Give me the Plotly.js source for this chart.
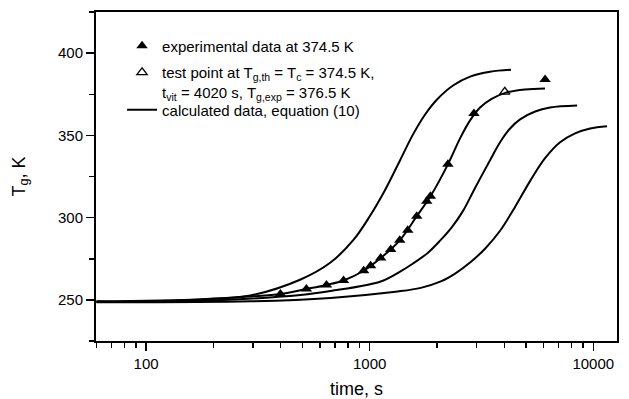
<!DOCTYPE html>
<html>
<head>
<meta charset="utf-8">
<script src="https://cdn.plot.ly/plotly-3.0.1.min.js"></script>
<style>
  html, body { margin: 0; padding: 0; background: #ffffff; }
  #chart { width: 629px; height: 399px; }
</style>
</head>
<body>
<div id="chart"></div>
<script>
// ---- data ----
const curve1Time = [60, 104, 175, 293, 491, 668, 848, 1004, 1172, 1368, 1563, 1770, 2001, 2360, 2812, 3455, 4285];
const curve1Tg   = [248.8, 249.1, 250.3, 252.7, 262.4, 272.7, 286.6, 301.1, 316.8, 334.9, 350.6, 362.7, 371.8, 380.3, 385.7, 388.7, 389.9];

const curve2Time = [60, 175, 293, 399, 521, 641, 764, 940, 1120, 1363, 1624, 1870, 2238, 2537, 2812, 3118, 3527, 4070, 4955, 6087];
const curve2Tg   = [249.1, 250.3, 252.1, 253.6, 256.6, 259.1, 261.8, 267.7, 275.4, 286.2, 300.9, 313.0, 332.4, 348.2, 359.1, 366.9, 372.3, 376.0, 377.9, 378.5];

const curve3Time = [60, 175, 491, 668, 1120, 1368, 1563, 1824, 2065, 2337, 2616, 2960, 3455, 3830, 4246, 4707, 5495, 6411, 8468];
const curve3Tg   = [248.8, 249.4, 253.0, 255.4, 261.2, 267.2, 272.1, 278.7, 286.0, 294.4, 304.1, 318.0, 334.9, 345.8, 354.2, 359.7, 364.5, 366.9, 368.1];

const curve4Time = [60, 293, 668, 1335, 1693, 2081, 2410, 2812, 3281, 3830, 4470, 5215, 6087, 7106, 8293, 9679, 11530];
const curve4Tg   = [248.5, 249.1, 251.2, 255.1, 257.3, 261.2, 266.0, 272.7, 281.1, 292.0, 306.5, 322.2, 336.1, 345.8, 351.2, 354.2, 355.6];

const expTime = [399, 521, 641, 764, 940, 1010, 1120, 1242, 1363, 1480, 1624, 1800, 1870, 2238, 2927, 6090];
const expTg   = [253.6, 256.6, 259.1, 261.8, 267.7, 270.7, 275.4, 280.6, 286.2, 292.4, 300.9, 310.0, 313.0, 332.4, 363.3, 384.0];

const testTime = [4020];
const testTg   = [376.5];

const xTickVals = [100, 1000, 10000];
const xTickText = ['100', '1000', '10000'];
const yTickVals = [250, 300, 350, 400];
const yTickText = ['250', '300', '350', '400'];

const legendExp  = 'experimental data at 374.5 K';
const legendTest = 'test point at T<sub>g,th</sub> = T<sub>c</sub> = 374.5 K,<br>t<sub>vit</sub> = 4020 s, T<sub>g,exp</sub> = 376.5 K';
const legendCalc = 'calculated data, equation (10)';

// ---- chart ----
const FONT = 'Liberation Sans, Arial, Helvetica, sans-serif';
const curveLine = { color: '#000000', width: 2, shape: 'spline', smoothing: 1 };

const curves = [
  [curve1Time, curve1Tg],
  [curve2Time, curve2Tg],
  [curve3Time, curve3Tg],
  [curve4Time, curve4Tg]
].map((c, i) => ({
  x: c[0], y: c[1], type: 'scatter', mode: 'lines',
  line: curveLine, name: legendCalc, showlegend: i === 0, legend: 'legend3',
  hoverinfo: 'skip'
}));

const traces = curves.concat([
  {
    x: expTime, y: expTg, type: 'scatter', mode: 'markers', name: legendExp,
    legend: 'legend',
    marker: { symbol: 'triangle-up', size: 10, color: '#000000', line: { width: 0 } }
  },
  {
    x: testTime, y: testTg, type: 'scatter', mode: 'markers', name: legendTest,
    legend: 'legend2',
    marker: { symbol: 'triangle-up-open', size: 9, color: '#000000', line: { width: 1.3, color: '#000000' } }
  }
]);

const legendBase = (yPos) => ({
  x: 0.05, y: yPos, xanchor: 'left', yanchor: 'top',
  bgcolor: 'rgba(0,0,0,0)', borderwidth: 0,
  font: { family: FONT, size: 15, color: '#000000' },
  valign: 'top', tracegroupgap: 0
});

const layout = {
  width: 629, height: 399,
  margin: { l: 96, r: 12, t: 12, b: 58, pad: 0 },
  paper_bgcolor: '#ffffff', plot_bgcolor: '#ffffff',
  font: { family: FONT, size: 15, color: '#000000' },
  showlegend: true,
  legend: legendBase(0.947),
  legend2: legendBase(0.866),
  legend3: legendBase(0.752),
  xaxis: {
    type: 'log', range: [Math.log10(59.7), Math.log10(12770)],
    tickmode: 'array', tickvals: xTickVals, ticktext: xTickText,
    ticks: 'outside', ticklen: 8, tickwidth: 1.5, tickcolor: '#000000',
    minor: { ticks: 'outside', ticklen: 5, tickwidth: 1.5, tickcolor: '#000000', dtick: 'D1', showgrid: false },
    showline: true, linecolor: '#000000', linewidth: 2, mirror: true,
    showgrid: false, zeroline: false,
    tickfont: { family: FONT, size: 15, color: '#000000' },
    title: { text: 'time, s', font: { family: FONT, size: 18, color: '#000000' }, standoff: 12 }
  },
  yaxis: {
    range: [225, 425],
    tickmode: 'array', tickvals: yTickVals, ticktext: yTickText,
    ticks: 'outside', ticklen: 8, tickwidth: 1.5, tickcolor: '#000000',
    minor: { ticks: 'outside', ticklen: 5, tickwidth: 1.5, tickcolor: '#000000', dtick: 25, showgrid: false },
    showline: true, linecolor: '#000000', linewidth: 2, mirror: true,
    showgrid: false, zeroline: false,
    tickfont: { family: FONT, size: 15, color: '#000000' },
    title: { text: 'T<sub>g</sub>, K', font: { family: FONT, size: 18, color: '#000000' }, standoff: 28 }
  }
};

Plotly.newPlot('chart', traces, layout, { displayModeBar: false, staticPlot: true });
</script>
</body>
</html>
